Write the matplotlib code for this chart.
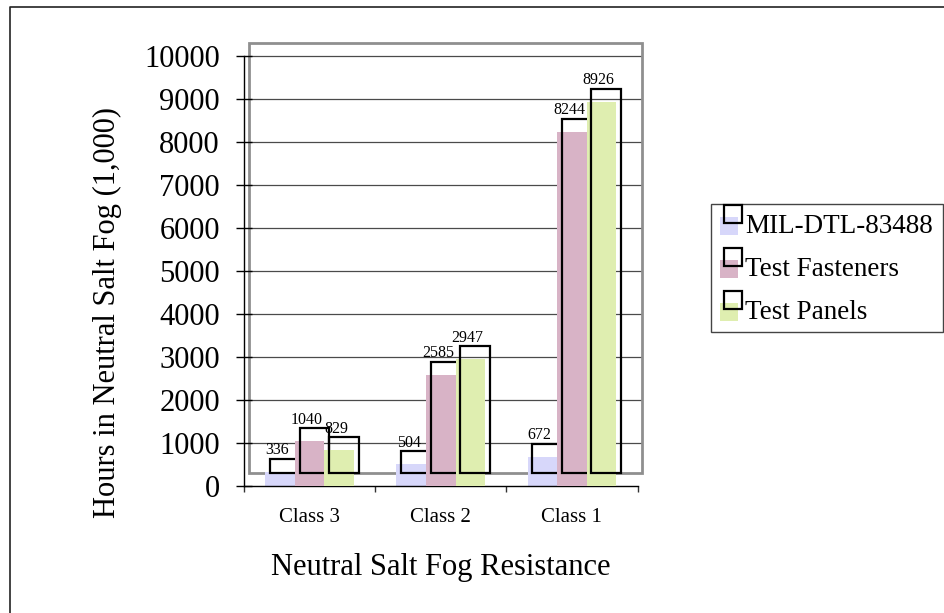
import matplotlib.pyplot as plt
from matplotlib.patches import Rectangle

plt.rcParams['font.family'] = ['Liberation Serif', 'DejaVu Serif']

# chart data
categories = ['Class 3', 'Class 2', 'Class 1']
series_names = ['MIL-DTL-83488', 'Test Fasteners', 'Test Panels']
mil_spec = [336, 504, 672]
fasteners = [1040, 2585, 8244]
panels = [829, 2947, 8926]
yticks = [0, 1000, 2000, 3000, 4000, 5000, 6000, 7000, 8000, 9000, 10000]

series = [mil_spec, fasteners, panels]
colors = ['#d7d7fa', '#d8b3c6', '#dfeeb0']

W, H = 944, 613
fig = plt.figure(figsize=(W / 100, H / 100), dpi=100)

# pixel helper for the plot area
left, right, bottom, top = 244, 637.5, 486, 56
ax = fig.add_axes([left / W, (H - bottom) / H, (right - left) / W, (bottom - top) / H])
ax.set_xlim(-0.5, 2.5)
ax.set_ylim(0, 10000)

# fake 3d depth (back wall and bar outlines are shifted up/right)
dx, dy = 0.036, 300
bw = 0.225
offsets = [-bw, 0, bw]

ax.add_patch(Rectangle((-0.5 + dx, dy), 3, 10000, fill=False,
                       edgecolor='#8f8f8f', lw=2, zorder=1.5, clip_on=False))
ax.hlines(yticks[1:], -0.5 + dx, 2.5 + dx, colors='#4a4a4a', lw=0.9,
          zorder=1, clip_on=False)

xs = list(range(len(categories)))
for i, vals in enumerate(series):
    pos = [x + offsets[i] for x in xs]
    ax.bar(pos, vals, width=bw, color=colors[i], lw=0, zorder=2 + 2 * i)
    ax.bar([p + dx for p in pos], vals, bottom=dy, width=bw, fill=False,
           edgecolor='black', lw=1.6, zorder=3 + 2 * i, clip_on=False)
    for p, v in zip(pos, vals):
        ax.annotate(str(v), (p - 0.02, v + dy), xytext=(0, 3.5),
                    textcoords='offset points', ha='center', va='baseline',
                    fontsize=11.5, zorder=10, annotation_clip=False)

for s in ['top', 'right']:
    ax.spines[s].set_visible(False)
for s in ['left', 'bottom']:
    ax.spines[s].set_color('black')
    ax.spines[s].set_linewidth(1)

ax.set_yticks(yticks)
ax.tick_params(axis='y', direction='inout', length=11, width=1, pad=11.8,
               labelsize=22)
ax.set_xticks([-0.5, 0.5, 1.5, 2.5])
ax.set_xticklabels([])
ax.tick_params(axis='x', which='major', direction='out', length=4.5, width=1,
               color='#333333')
ax.set_xticks(xs, minor=True)
ax.set_xticklabels(categories, minor=True)
ax.tick_params(axis='x', which='minor', length=0, pad=16, labelsize=15)

ax.set_xlabel('Neutral Salt Fog Resistance', fontsize=22, va='center')
ax.xaxis.set_label_coords(440.5 / W, (H - 568) / H, transform=fig.transFigure)
ax.set_ylabel('Hours in Neutral Salt Fog (1,000)', fontsize=22, va='center')
ax.yaxis.set_label_coords(107 / W, (H - 312) / H, transform=fig.transFigure)

# overlay in pixel coords for the chart border and legend
ov = fig.add_axes([0, 0, 1, 1], zorder=5)
ov.set_xlim(0, W)
ov.set_ylim(H, 0)
ov.axis('off')
ov.patch.set_alpha(0)
ov.plot([10, 10, W], [H + 5, 7, 7], color='#222222', lw=1.2)

ov.add_patch(Rectangle((711, 204), 232, 128, fill=False, edgecolor='#444444', lw=1))
for i, name in enumerate(series_names):
    y0 = 217 + i * 43
    ov.add_patch(Rectangle((720, y0), 18, 18, color=colors[i], lw=0))
    ov.add_patch(Rectangle((724, y0 - 12), 18, 18, fill=False,
                           edgecolor='black', lw=1.6))
    ov.text(745, y0 + 16, name, fontsize=19.5, va='baseline', ha='left')

fig.savefig('out.png', dpi=100)
